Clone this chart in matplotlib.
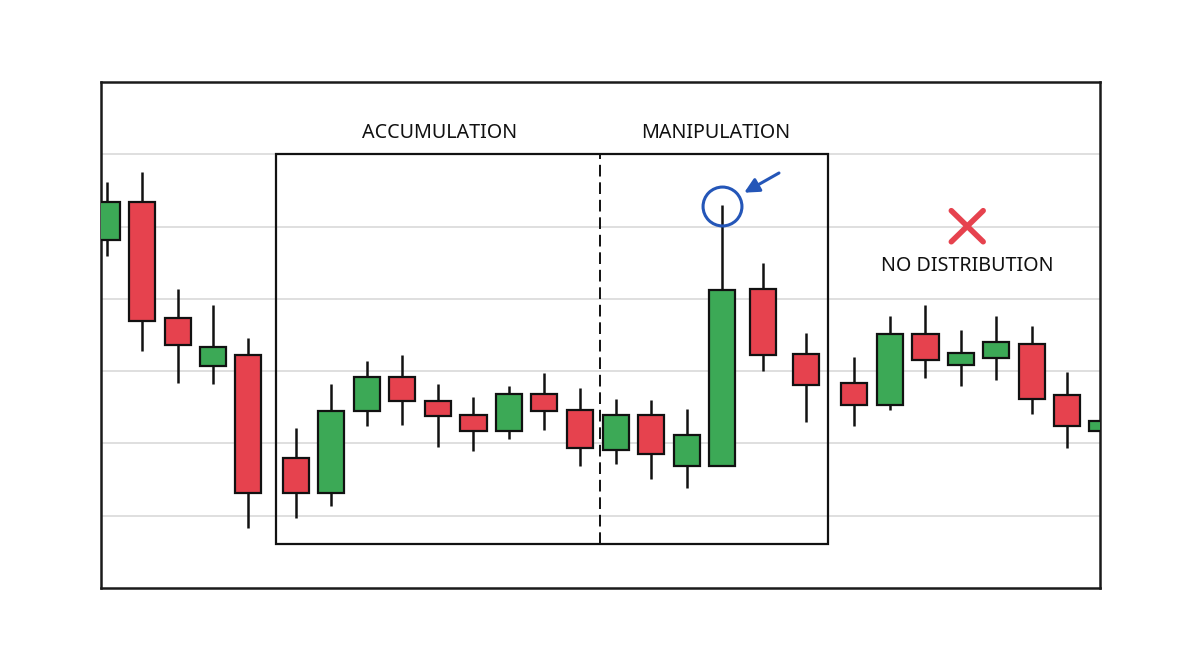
import matplotlib.pyplot as plt
from matplotlib.patches import Rectangle

plt.rcParams['font.family'] = ['Noto Sans', 'DejaVu Sans']

# candle positions (time axis, in bar units) and OHLC values
xpos = [0, 0.99, 2.0, 2.99, 3.99, 5.33, 6.33, 7.34, 8.34, 9.34, 10.35, 11.36, 12.35, 13.36,
        14.37, 15.36, 16.38, 17.37, 18.54, 19.75, 21.10, 22.11, 23.12, 24.12, 25.12, 26.12,
        27.12, 28.11]
opens = [138.2, 143.4, 127.4, 120.7, 122.2, 108.0, 103.2, 114.5, 119.25, 115.9, 114.0, 111.7,
         116.9, 114.6, 109.1, 114.0, 106.9, 106.9, 131.3, 122.4, 118.3, 115.3, 125.1, 120.9,
         121.8, 123.7, 116.7, 111.7]
highs = [146.1, 147.5, 131.3, 129.2, 124.6, 112.2, 118.2, 121.4, 122.3, 118.2, 116.4, 117.9,
         119.8, 117.7, 116.1, 116.0, 114.7, 143.0, 134.9, 125.3, 122.0, 127.6, 129.2, 125.7,
         127.6, 126.2, 119.9, 114.5]
lows = [135.9, 122.8, 118.4, 118.2, 98.3, 99.7, 101.3, 112.35, 112.5, 109.5, 108.9, 110.6,
        111.9, 106.9, 107.1, 105.1, 103.8, 106.9, 120.0, 112.9, 112.4, 114.6, 119.0, 118.0,
        118.8, 114.05, 109.3, 110.5]
closes = [143.4, 127.0, 123.6, 123.4, 103.2, 103.2, 114.5, 119.25, 115.9, 113.8, 111.7, 116.85,
          114.5, 109.3, 114.0, 108.6, 111.2, 131.2, 122.3, 118.1, 115.3, 125.1, 121.6, 122.5,
          124.0, 116.1, 112.4, 113.1]

labels = ['ACCUMULATION', 'MANIPULATION', 'NO DISTRIBUTION']

green = '#3ca956'
red = '#e6424e'
blue = '#2456b8'
body_w = 0.74

fig = plt.figure(figsize=(12, 6.7), dpi=100)
ax = fig.add_axes([101 / 1200, 82 / 670, 999 / 1200, 506 / 670])
ax.set_xlim(-0.17, 28.05)
ax.set_ylim(90, 160)

for y in [100, 110, 120, 130, 140, 150]:
    ax.axhline(y, color='#d9d9d9', lw=1.2, zorder=0)

for x, o, h, l, c in zip(xpos, opens, highs, lows, closes):
    col = green if c >= o else red
    ax.plot([x, x], [l, h], color='#111111', lw=1.8, zorder=2, solid_capstyle='butt')
    ax.add_patch(Rectangle((x - body_w / 2, min(o, c)), body_w, abs(c - o),
                           facecolor=col, edgecolor='#111111', lw=1.6, zorder=3))

# accumulation / manipulation box
ax.add_patch(Rectangle((4.77, 96.05), 20.38 - 4.77, 150.06 - 96.05, fill=False,
                       edgecolor='#111111', lw=1.6, zorder=4))
ax.plot([13.93, 13.93], [96.05, 150.06], color='#111111', lw=1.4, ls=(0, (6, 3)), zorder=1)

ax.text(9.38, 153.0, labels[0], ha='center', va='center', fontsize=14.2, color='#111111')
ax.text(17.18, 153.0, labels[1], ha='center', va='center', fontsize=14.2, color='#111111')
ax.text(24.29, 134.6, labels[2], ha='center', va='center', fontsize=14.2, color='#111111')

# red cross
ax.plot([23.85, 24.75], [142.2, 137.9], color=red, lw=4, solid_capstyle='round', zorder=5)
ax.plot([23.85, 24.75], [137.9, 142.2], color=red, lw=4, solid_capstyle='round', zorder=5)

# circle and arrow on the manipulation wick
ax.plot(17.36, 142.8, marker='o', markersize=28, markerfacecolor='none',
        markeredgecolor=blue, markeredgewidth=2.2, zorder=6)
ax.annotate('', xy=(17.93, 144.5), xytext=(19.05, 147.6),
            arrowprops=dict(arrowstyle='-|>', color=blue, lw=2.2, mutation_scale=22), zorder=6)

ax.set_xticks([])
ax.set_yticks([])
for s in ax.spines.values():
    s.set_linewidth(1.8)
    s.set_color('#1a1a1a')

fig.savefig('out.png', dpi=100, facecolor='white')
